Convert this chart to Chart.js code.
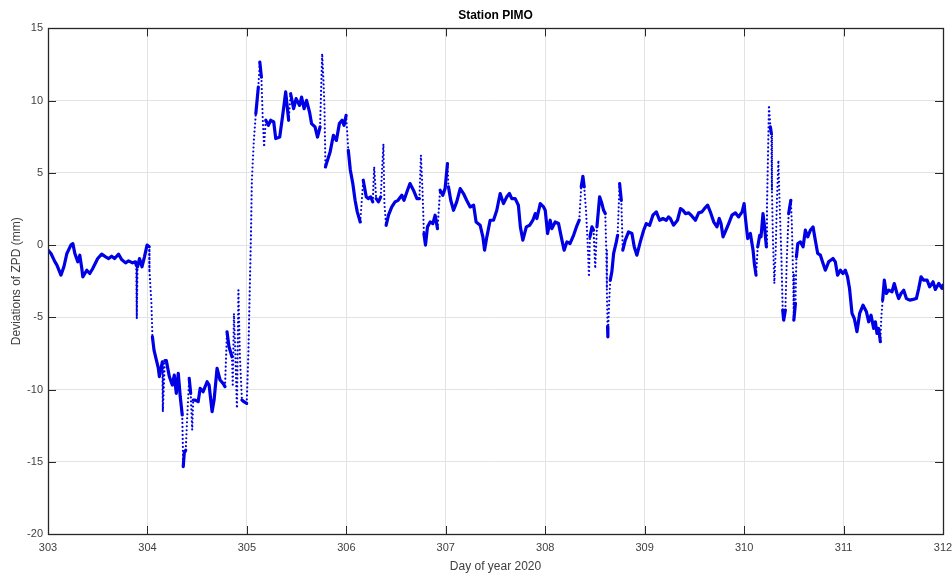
<!DOCTYPE html>
<html lang="en">
<head>
  <meta charset="UTF-8" />
  <title>Station PIMO - ZPD deviations</title>
  <script src="https://cdn.jsdelivr.net/npm/chart.js@4"></script>
  <style>
    html, body { margin: 0; padding: 0; background: #fff; }
  </style>
</head>
<body>
  <canvas id="zpdChart" width="952" height="577"></canvas>

  <script>
    // day of year 2020
    const days = [
      303.00, 303.03, 303.07, 303.09, 303.13, 303.16, 303.19, 303.23, 303.25, 303.27,
      303.30, 303.32, 303.34, 303.35, 303.39, 303.42, 303.45, 303.50, 303.54, 303.58,
      303.61, 303.64, 303.67, 303.71, 303.74, 303.78, 303.81, 303.85, 303.88, 303.887,
      303.893, 303.90, 303.92, 303.945, 303.97, 303.996, 304.016, 304.02, 304.04, 304.05,
      304.066, 304.09, 304.11, 304.12, 304.15, 304.155, 304.175, 304.19, 304.22, 304.25,
      304.27, 304.29, 304.31, 304.33, 304.35, 304.36, 304.37, 304.385, 304.40, 304.42,
      304.435, 304.45, 304.46, 304.48, 304.51, 304.53, 304.56, 304.60, 304.62, 304.65,
      304.67, 304.70, 304.73, 304.76, 304.78, 304.80, 304.82, 304.85, 304.858, 304.87,
      304.88, 304.90, 304.915, 304.93, 304.95, 304.97, 304.998, 305.015, 305.025, 305.04,
      305.05, 305.07, 305.09, 305.115, 305.13, 305.146, 305.16, 305.173, 305.19, 305.216,
      305.24, 305.27, 305.29, 305.33, 305.36, 305.39, 305.42, 305.44, 305.47, 305.495,
      305.53, 305.55, 305.575, 305.60, 305.63, 305.65, 305.685, 305.71, 305.736, 305.757,
      305.77, 305.78, 305.79, 305.80, 305.837, 305.87, 305.90, 305.93, 305.957, 305.977,
      305.998, 306.02, 306.04, 306.065, 306.088, 306.11, 306.14, 306.17, 306.20, 306.22,
      306.245, 306.266, 306.28, 306.30, 306.323, 306.346, 306.373, 306.383, 306.40, 306.424,
      306.457, 306.49, 306.52, 306.558, 306.58, 306.615, 306.64, 306.675, 306.71, 306.735,
      306.75, 306.766, 306.78, 306.796, 306.816, 306.843, 306.87, 306.893, 306.917, 306.943,
      306.97, 306.993, 307.017, 307.027, 307.05, 307.078, 307.11, 307.145, 307.178, 307.21,
      307.245, 307.28, 307.305, 307.346, 307.373, 307.39, 307.413, 307.446, 307.48, 307.513,
      307.547, 307.58, 307.614, 307.64, 307.664, 307.698, 307.73, 307.75, 307.775, 307.81,
      307.843, 307.876, 307.90, 307.916, 307.95, 307.983, 308.00, 308.024, 308.05, 308.067,
      308.10, 308.134, 308.168, 308.19, 308.218, 308.25, 308.285, 308.32, 308.342, 308.362,
      308.379, 308.392, 308.41, 308.426, 308.44, 308.45, 308.47, 308.486, 308.503, 308.52,
      308.547, 308.57, 308.587, 308.604, 308.614, 308.62, 308.627, 308.63, 308.644, 308.654,
      308.67, 308.688, 308.715, 308.728, 308.748, 308.765, 308.78, 308.805, 308.838, 308.872,
      308.895, 308.922, 308.956, 308.99, 309.016, 309.05, 309.083, 309.117, 309.15, 309.184,
      309.217, 309.24, 309.258, 309.29, 309.33, 309.36, 309.385, 309.41, 309.443, 309.476,
      309.51, 309.543, 309.576, 309.61, 309.633, 309.66, 309.694, 309.727, 309.75, 309.768,
      309.788, 309.81, 309.845, 309.878, 309.912, 309.945, 309.98, 310.00, 310.012, 310.036,
      310.063, 310.09, 310.103, 310.12, 310.137, 310.157, 310.17, 310.19, 310.204, 310.224,
      310.23, 310.24, 310.25, 310.264, 310.274, 310.28, 310.29, 310.304, 310.318, 310.33,
      310.345, 310.358, 310.375, 310.388, 310.398, 310.415, 310.43, 310.448, 310.47, 310.48,
      310.492, 310.50, 310.516, 310.526, 310.54, 310.566, 310.593, 310.616, 310.64, 310.666,
      310.693, 310.716, 310.74, 310.767, 310.794, 310.817, 310.85, 310.894, 310.917, 310.94,
      310.968, 310.994, 311.018, 311.04, 311.06, 311.085, 311.108, 311.135, 311.162, 311.196,
      311.23, 311.253, 311.276, 311.303, 311.32, 311.336, 311.353, 311.37, 311.38, 311.393,
      311.41, 311.43, 311.454, 311.487, 311.51, 311.537, 311.554, 311.578, 311.605, 311.632,
      311.665, 311.699, 311.732, 311.756, 311.779, 311.806, 311.84, 311.866, 311.90, 311.923,
      311.957, 311.99, 312.00
    ];

    // deviations of ZPD in mm
    const zpd = [
      -0.35, -0.58, -1.16, -1.39, -2.08, -1.5, -0.58, 0.0, 0.1, -0.58,
      -1.16, -0.7, -1.62, -2.2, -1.74, -1.97, -1.62, -0.93, -0.63, -0.81,
      -0.93, -0.77, -0.93, -0.63, -1.0, -1.23, -1.09, -1.23, -1.16, -1.4,
      -5.08, -1.5, -0.93, -1.5, -0.81, 0.0, -0.1, -1.74, -4.04, -6.35,
      -7.27, -7.96, -8.54, -9.1, -8.08, -11.5, -8.0, -8.0, -9.1, -9.69,
      -9.0, -10.27, -8.88, -10.5, -11.76, -15.34, -14.4, -14.2, -11.88, -9.23,
      -10.27, -12.8, -10.73, -10.73, -10.84, -9.92, -10.15, -9.46, -9.69, -11.53,
      -10.73, -8.54, -9.34, -9.57, -9.8, -6.0, -7.04, -7.73, -9.8, -4.73,
      -6.58, -11.3, -3.12, -7.73, -10.73, -10.84, -10.96, -7.5, -4.27, 0.34,
      4.49, 7.25, 9.1, 10.94, 12.67, 11.63, 8.64, 6.79, 8.64, 8.29,
      8.64, 8.52, 7.37, 7.48, 8.98, 10.6, 8.64, 10.48, 9.44, 10.14,
      9.67, 10.25, 9.44, 10.02, 9.21, 8.41, 8.18, 7.48, 8.18, 13.25,
      11.4, 9.56, 5.41, 5.64, 6.45, 7.6, 7.25, 8.41, 8.64, 8.29,
      8.98, 6.56, 5.2, 4.26, 3.1, 2.3, 1.6, 4.49, 3.34, 3.22,
      3.34, 2.99, 5.41, 3.22, 2.99, 3.34, 7.0, 2.87, 1.37, 2.07,
      2.64, 2.99, 3.1, 3.45, 3.1, 3.8, 4.26, 3.8, 3.22, 3.22,
      6.22, 3.8, 0.8, 0.0, 1.26, 1.6, 1.49, 2.07, 1.14, 3.8,
      3.45, 3.91, 5.64, 4.03, 3.1, 2.41, 2.99, 3.91, 3.57, 3.1,
      2.64, 2.76, 1.6, 1.37, 0.57, -0.35, 0.57, 1.72, 1.72, 2.41,
      3.57, 2.87, 3.34, 3.57, 3.22, 3.22, 2.76, 1.26, 0.34, 1.26,
      1.37, 1.72, 2.18, 1.84, 2.87, 2.64, 2.41, 0.8, 1.72, 1.14,
      1.6, 1.49, 0.34, -0.35, 0.22, 0.11, 0.68, 1.37, 1.72, 4.03,
      4.76, 4.03, 2.41, 0.22, -2.2, 0.57, 1.26, 1.03, -1.62, 1.26,
      3.34, 2.87, 2.41, 2.18, -0.35, -3.12, -5.65, -6.35, -3.81, -2.43,
      -1.85, -0.58, 0.22, 0.68, 4.26, 3.1, -0.35, 0.34, 0.91, 0.8,
      -0.12, -0.7, 0.22, 1.03, 1.49, 1.37, 2.07, 2.3, 1.72, 1.84,
      1.72, 1.95, 1.84, 1.38, 1.72, 2.53, 2.41, 2.18, 2.23, 2.0,
      1.72, 2.23, 2.3, 2.6, 2.76, 2.3, 1.61, 1.26, 1.84, 1.49,
      0.57, 0.91, 1.49, 2.07, 2.23, 1.95, 2.3, 2.87, 1.95, 0.45,
      0.8, -0.35, -1.27, -2.08, -0.12, 0.68, 0.57, 2.18, 1.38, -0.12,
      2.64, 6.1, 9.67, 8.18, 7.72, 3.8, 0.34, -2.66, -0.35, 3.1,
      5.87, 2.64, -0.81, -4.5, -5.2, -4.5, -0.81, 2.18, 3.1, 1.49,
      -1.97, -5.2, -4.04, -0.81, 0.11, 0.22, -0.12, 1.03, 0.57, 1.03,
      1.26, 0.34, -0.58, -0.7, -1.27, -1.74, -1.16, -0.93, -1.16, -2.08,
      -1.74, -1.97, -1.74, -2.2, -3.0, -4.73, -5.08, -5.99, -4.73, -4.16,
      -4.62, -5.31, -4.85, -5.77, -5.31, -6.12, -5.77, -6.69, -4.96, -3.81,
      -2.43, -3.35, -3.12, -3.23, -2.66, -3.35, -3.7, -3.35, -3.12, -3.7,
      -3.81, -3.76, -3.7, -3.0, -2.2, -2.43, -2.43, -2.89, -2.54, -3.07,
      -2.66, -3.0, -2.77
    ];

    const fontFamily = "'Liberation Sans', Arial, sans-serif";
    const lineBlue = 'rgb(0, 0, 230)';
    const axisColor = '#262626';
    const labelColor = '#404040';
    const gridColor = '#e3e3e3';

    // fast jumps show up as separate dots in the original, so dot those segments
    function steep(c) {
      const dx = Math.abs(c.p1.x - c.p0.x);
      const dy = Math.abs(c.p1.y - c.p0.y);
      return dy > 15 && dy > 12 * dx;
    }

    // MATLAB style box with inward ticks on all four sides
    const boxPlugin = {
      id: 'matlabBox',
      afterDraw(chart) {
        const { ctx, chartArea: a, scales } = chart;
        const len = 8;
        ctx.save();
        ctx.strokeStyle = axisColor;
        ctx.lineWidth = 1;
        ctx.beginPath();
        scales.x.ticks.forEach(t => {
          const px = Math.round(scales.x.getPixelForValue(t.value)) + 0.5;
          ctx.moveTo(px, a.bottom); ctx.lineTo(px, a.bottom - len);
          ctx.moveTo(px, a.top); ctx.lineTo(px, a.top + len);
        });
        scales.y.ticks.forEach(t => {
          const py = Math.round(scales.y.getPixelForValue(t.value)) + 0.5;
          ctx.moveTo(a.left, py); ctx.lineTo(a.left + len, py);
          ctx.moveTo(a.right, py); ctx.lineTo(a.right - len, py);
        });
        ctx.stroke();
        ctx.lineWidth = 1.3;
        ctx.strokeRect(Math.round(a.left) + 0.5, Math.round(a.top) + 0.5,
          Math.round(a.right - a.left), Math.round(a.bottom - a.top));
        ctx.restore();
      }
    };

    const ctx = document.getElementById('zpdChart').getContext('2d');

    new Chart(ctx, {
      type: 'line',
      data: {
        datasets: [{
          label: 'PIMO',
          data: days.map((d, i) => ({ x: d, y: zpd[i] })),
          borderColor: lineBlue,
          borderWidth: 3.2,
          borderCapStyle: 'round',
          borderJoinStyle: 'round',
          pointRadius: 0,
          tension: 0,
          segment: {
            borderDash: c => steep(c) ? [0, 4] : undefined,
            borderWidth: c => steep(c) ? 2.2 : undefined
          }
        }]
      },
      options: {
        responsive: false,
        animation: false,
        layout: { padding: { left: 0, right: 0, top: 0, bottom: 0 } },
        plugins: {
          legend: { display: false },
          tooltip: { enabled: false },
          title: {
            display: true,
            fullSize: false,
            text: 'Station PIMO',
            color: '#000',
            font: { family: fontFamily, size: 12, weight: 'bold' },
            padding: { top: 8, bottom: 6 }
          }
        },
        scales: {
          x: {
            type: 'linear',
            min: 303,
            max: 312,
            ticks: { stepSize: 1, padding: 7, color: labelColor, font: { family: fontFamily, size: 11 } },
            grid: { color: gridColor, drawTicks: false },
            border: { display: false },
            title: {
              display: true,
              text: 'Day of year 2020',
              color: labelColor,
              font: { family: fontFamily, size: 12 },
              padding: { top: 0, bottom: 3 }
            },
            afterFit: s => { s.height = 43; s.paddingLeft = 0; s.paddingRight = 9; }
          },
          y: {
            min: -20,
            max: 15,
            ticks: { stepSize: 5, padding: 5, color: labelColor, font: { family: fontFamily, size: 11 } },
            grid: { color: gridColor, drawTicks: false },
            border: { display: false },
            title: {
              display: true,
              text: 'Deviations of ZPD (mm)',
              color: labelColor,
              font: { family: fontFamily, size: 12 },
              padding: { top: 9, bottom: 0 }
            },
            afterFit: s => { s.width = 48; }
          }
        }
      },
      plugins: [boxPlugin]
    });
  </script>
</body>
</html>
